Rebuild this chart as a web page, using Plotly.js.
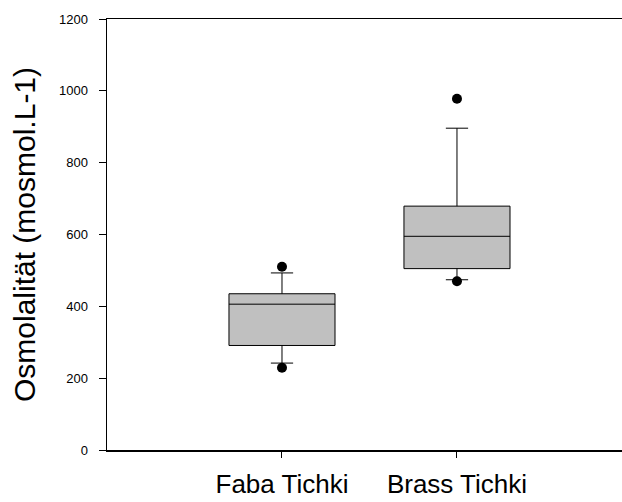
<!DOCTYPE html>
<html>
<head>
<meta charset="utf-8">
<script src="https://cdn.plot.ly/plotly-3.0.1.min.js"></script>
<style>html,body{margin:0;padding:0;background:#fff;}#chart{width:622px;height:502px;}</style>
</head>
<body>
<div id="chart"></div>
<script>
const categories = ["Faba Tichki", "Brass Tichki"];
const q1Values = [291, 505];
const medianValues = [406, 595];
const q3Values = [435, 679];
const lowerWhisker = [242, 474];
const upperWhisker = [493, 896];
const outlierCategories = ["Faba Tichki", "Faba Tichki", "Brass Tichki", "Brass Tichki"];
const outlierValues = [510, 229, 978, 470];
const yTickValues = [0, 200, 400, 600, 800, 1000, 1200];

const boxTrace = {
  type: 'box',
  x: categories,
  q1: q1Values,
  median: medianValues,
  q3: q3Values,
  lowerfence: lowerWhisker,
  upperfence: upperWhisker,
  boxpoints: false,
  width: 0.606,
  whiskerwidth: 0.21,
  fillcolor: '#c0c0c0',
  line: {color: '#000000', width: 1},
  hoverinfo: 'skip',
  showlegend: false
};

const outlierTrace = {
  type: 'scatter',
  mode: 'markers',
  x: outlierCategories,
  y: outlierValues,
  marker: {color: '#000000', size: 10, symbol: 'circle'},
  hoverinfo: 'skip',
  showlegend: false
};

const layout = {
  width: 622,
  height: 502,
  margin: {l: 107, r: 0, t: 19, b: 52, pad: 0},
  paper_bgcolor: '#ffffff',
  plot_bgcolor: '#ffffff',
  showlegend: false,
  font: {family: 'Liberation Sans, Arial, sans-serif', color: '#000000'},
  xaxis: {
    type: 'category',
    range: [-1.0, 1.943],
    showgrid: false,
    zeroline: false,
    showline: true,
    linecolor: '#000000',
    linewidth: 1.5,
    mirror: true,
    ticks: 'outside',
    ticklen: 6,
    tickwidth: 1,
    tickcolor: '#000000',
    tickfont: {family: 'Liberation Sans, Arial, sans-serif', size: 26, color: '#000000'},
    ticklabelstandoff: 4
  },
  yaxis: {
    range: [0, 1200],
    tickvals: yTickValues,
    ticktext: yTickValues.map(String),
    showgrid: false,
    zeroline: false,
    showline: true,
    linecolor: '#000000',
    linewidth: 1.5,
    mirror: false,
    ticks: 'outside',
    ticklen: 7,
    tickwidth: 1,
    tickcolor: '#000000',
    tickfont: {family: 'Liberation Sans Narrow, Arial Narrow, Liberation Sans, sans-serif', size: 13, color: '#000000'},
    ticklabelstandoff: 8,
    title: {
      text: 'Osmolalität (mosmol.L-1)',
      font: {family: 'Liberation Sans, Arial, sans-serif', size: 30, color: '#000000'},
      standoff: 14
    }
  }
};

Plotly.newPlot('chart', [boxTrace, outlierTrace], layout, {displayModeBar: false, staticPlot: true});
</script>
</body>
</html>
